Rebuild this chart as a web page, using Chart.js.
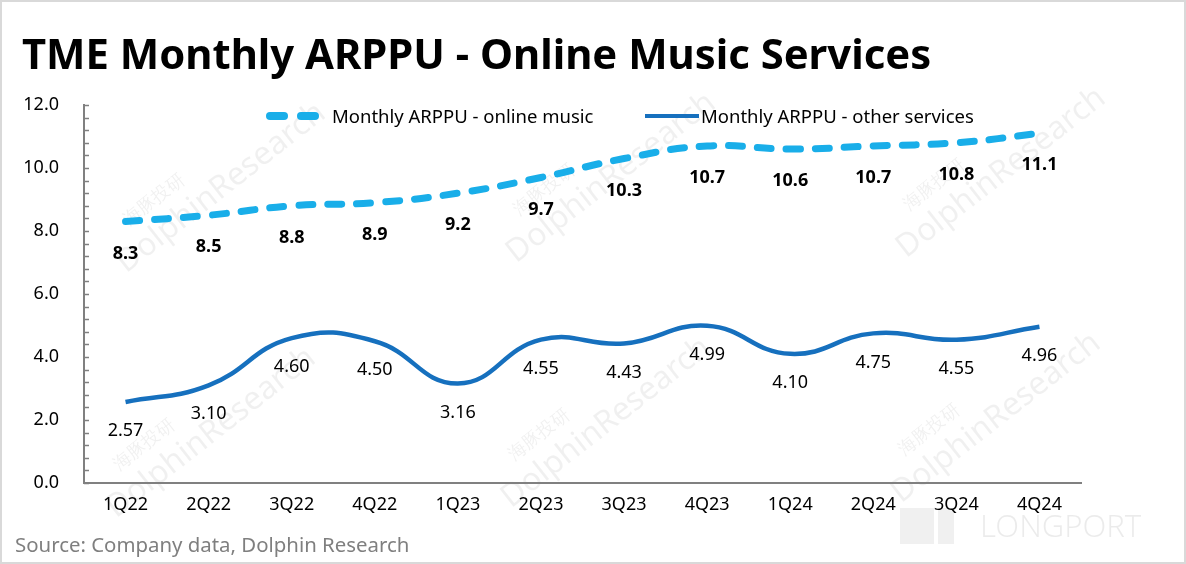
<!DOCTYPE html>
<html>
<head>
<meta charset="utf-8">
<script src="https://cdn.jsdelivr.net/npm/chart.js@4.4.1/dist/chart.umd.min.js"></script>
<style>
    html, body { margin: 0; padding: 0; background: #fff; }
    #wrap {
        position: relative; width: 1186px; height: 564px;
        box-sizing: border-box; border: 2px solid #d9d9d9; overflow: hidden;
        font-family: 'Noto Sans', 'Open Sans', sans-serif;
    }
    #chart { position: absolute; left: -2px; top: -2px; }
    .title {
        position: absolute; left: 20px; top: 22px; margin: 0;
        font-size: 41.8px; font-weight: 700; color: #000; white-space: nowrap;
    }
    .legend { position: absolute; top: 101px; font-size: 18.5px; color: #000; white-space: nowrap; }
    .legend .sym { display: inline-block; vertical-align: middle; margin-right: 8px; position: relative; top: -2px; }
    .source { position: absolute; left: 13px; top: 528px; font-size: 20.4px; color: #7f7f7f; white-space: nowrap; }
</style>
</head>
<body>
<div id="wrap">
    <canvas id="chart" width="1186" height="564"></canvas>
    <h1 class="title">TME Monthly ARPPU - Online Music Services</h1>
    <div class="legend" style="left:264px">
        <span class="sym" style="width:58px;height:8px">
            <span style="position:absolute;left:0;top:0;width:22px;height:8px;border-radius:4px;background:#19aee9"></span>
            <span style="position:absolute;left:31px;top:0;width:22px;height:8px;border-radius:4px;background:#19aee9"></span>
        </span>Monthly ARPPU - online music
    </div>
    <div class="legend" style="left:643px">
        <span class="sym" style="width:54px;height:4px;background:#1670be;margin-right:2px"></span>Monthly ARPPU - other services
    </div>
    <div class="source">Source: Company data, Dolphin Research</div>
</div>
<script>
    // данные с картинки
    const quarters = ['1Q22', '2Q22', '3Q22', '4Q22', '1Q23', '2Q23', '3Q23', '4Q23', '1Q24', '2Q24', '3Q24', '4Q24'];
    const onlineMusic = [8.3, 8.5, 8.8, 8.9, 9.2, 9.7, 10.3, 10.7, 10.6, 10.7, 10.8, 11.1];
    const otherServices = [2.57, 3.10, 4.60, 4.50, 3.16, 4.55, 4.43, 4.99, 4.10, 4.75, 4.55, 4.96];
    const yMin = 0, yMax = 12, yMinorStep = 0.4, yMajorStep = 2;

    const FONT = "'Noto Sans', 'Open Sans', sans-serif";
    const AXIS = '#808080';

    // водяные знаки на фоне
    const watermark = {
        id: 'watermark',
        beforeDraw(chart) {
            const ctx = chart.ctx;
            const spots = [[215, 180], [605, 170], [995, 165], [205, 425], [600, 415], [990, 410]];
            ctx.save();
            spots.forEach(([x, y]) => {
                ctx.save();
                ctx.translate(x, y);
                ctx.rotate(-38 * Math.PI / 180);
                ctx.fillStyle = 'rgba(0,0,0,0.06)';
                ctx.font = '32px ' + FONT;
                ctx.textAlign = 'center';
                ctx.textBaseline = 'middle';
                ctx.fillText('DolphinResearch', 0, 10);
                ctx.font = '18px ' + FONT;
                ctx.fillText('海豚投研', -60, -22);
                ctx.restore();
            });
            ctx.fillStyle = 'rgba(0,0,0,0.06)';
            ctx.fillRect(900, 508, 34, 36);
            ctx.fillRect(938, 508, 16, 36);
            ctx.font = '300 31px ' + FONT;
            ctx.textBaseline = 'middle';
            ctx.fillStyle = 'rgba(0,0,0,0.08)';
            ctx.fillText('LONGPORT', 980, 528);
            ctx.restore();
        },
    };

    // мелкие засечки на оси Y внутрь области
    const minorTicks = {
        id: 'minorTicks',
        afterDraw(chart) {
            const y = chart.scales.y;
            const ctx = chart.ctx;
            ctx.save();
            ctx.strokeStyle = AXIS;
            ctx.lineWidth = 1.5;
            y.ticks.forEach((t) => {
                const py = Math.round(y.getPixelForValue(t.value)) + 0.5;
                ctx.beginPath();
                ctx.moveTo(y.right, py);
                ctx.lineTo(y.right + 5, py);
                ctx.stroke();
            });
            ctx.restore();
        },
    };

    // подписи значений под точками
    const valueLabels = {
        id: 'valueLabels',
        afterDatasetsDraw(chart) {
            const ctx = chart.ctx;
            ctx.save();
            ctx.textAlign = 'center';
            ctx.textBaseline = 'middle';
            ctx.fillStyle = '#000';
            chart.data.datasets.forEach((ds, i) => {
                const meta = chart.getDatasetMeta(i);
                ctx.font = (ds.labelBold ? 'bold ' : '') + '18px ' + FONT;
                meta.data.forEach((pt, j) => {
                    const v = ds.data[j];
                    ctx.fillText(v.toFixed(ds.labelDigits), pt.x, pt.y + ds.labelOffset);
                });
            });
            ctx.restore();
        },
    };

    new Chart(document.getElementById('chart'), {
        type: 'line',
        data: {
            labels: quarters,
            datasets: [{
                label: 'Monthly ARPPU - online music',
                data: onlineMusic,
                borderColor: '#19aee9',
                borderWidth: 7,
                borderDash: [14, 15],
                borderCapStyle: 'round',
                tension: 0.45,
                pointRadius: 0,
                fill: false,
                labelBold: true,
                labelDigits: 1,
                labelOffset: 32,
            }, {
                label: 'Monthly ARPPU - other services',
                data: otherServices,
                borderColor: '#1670be',
                borderWidth: 4.5,
                tension: 0.45,
                pointRadius: 0,
                fill: false,
                labelBold: false,
                labelDigits: 2,
                labelOffset: 29,
            }],
        },
        options: {
            responsive: false,
            animation: false,
            layout: { padding: { left: 2, top: 105, right: 105, bottom: 0 } },
            plugins: {
                legend: { display: false },
                tooltip: { enabled: false },
            },
            scales: {
                x: {
                    offset: true,
                    afterFit: (s) => { s.height = 81; },
                    grid: { display: true, drawOnChartArea: false, drawTicks: false },
                    border: { display: true, color: AXIS, width: 2 },
                    ticks: { color: '#000', font: { family: FONT, size: 18 }, padding: 11, maxRotation: 0, autoSkip: false },
                },
                y: {
                    min: yMin,
                    max: yMax,
                    afterFit: (s) => { s.width = 82; },
                    grid: { display: true, drawOnChartArea: false, drawTicks: false },
                    border: { display: true, color: AXIS, width: 2 },
                    ticks: {
                        stepSize: yMinorStep,
                        autoSkip: false,
                        color: '#000',
                        font: { family: FONT, size: 18 },
                        padding: 25,
                        callback: (v) => {
                            const r = v / yMajorStep;
                            return Math.abs(r - Math.round(r)) < 1e-6 ? v.toFixed(1) : '';
                        },
                    },
                },
            },
        },
        plugins: [watermark, minorTicks, valueLabels],
    });
</script>
</body>
</html>
